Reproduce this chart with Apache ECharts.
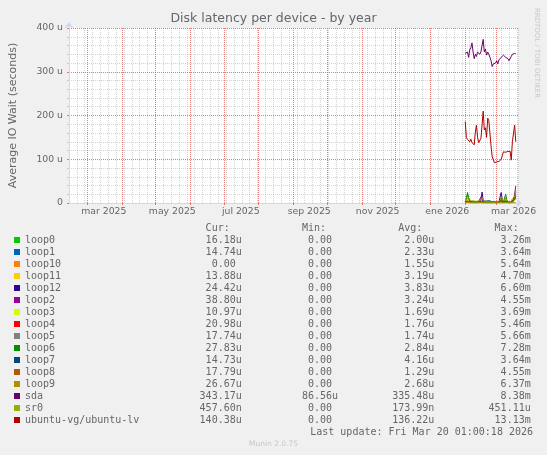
<!DOCTYPE html>
<html><head><meta charset="utf-8">
<script src="https://cdn.jsdelivr.net/npm/echarts@6/dist/echarts.min.js"></script>
<style>html,body{margin:0;padding:0;background:#F0F0F0}#c{width:547px;height:455px}</style>
</head><body><div id="c"></div>
<script>
// ---- data ----
const seriesNames = ['loop0','loop1','loop10','loop11','loop12','loop2','loop3','loop4','loop5','loop6','loop7','loop8','loop9','sda','sr0','ubuntu-vg/ubuntu-lv'];
const seriesColors = ['#00CC00','#0066B3','#FF8000','#FFCC00','#330099','#990099','#CCFF00','#FF0000','#808080','#008F00','#00487D','#B35A00','#B38F00','#6B006B','#8FB300','#B30000'];
const curValues = ['16.18u','14.74u','0.00','13.88u','24.42u','38.80u','10.97u','20.98u','17.74u','27.83u','14.73u','17.79u','26.67u','343.17u','457.60n','140.38u'];
const minValues = ['0.00','0.00','0.00','0.00','0.00','0.00','0.00','0.00','0.00','0.00','0.00','0.00','0.00','86.56u','0.00','0.00'];
const avgValues = ['2.00u','2.33u','1.55u','3.19u','3.83u','3.24u','1.69u','1.76u','1.74u','2.84u','4.16u','1.29u','2.68u','335.48u','173.99n','136.22u'];
const maxValues = ['3.26m','3.64m','5.64m','4.70m','6.60m','4.55m','3.69m','5.46m','5.66m','7.28m','3.64m','4.55m','6.37m','8.38m','451.11u','13.13m'];

const yTickLabels = ['0','100 u','200 u','300 u','400 u'];
const xLabelDates = ['2025-03-16','2025-05-16','2025-07-16','2025-09-15','2025-11-15','2026-01-16','2026-03-16'];
const xLabelTexts = ['mar 2025','may 2025','jul 2025','sep 2025','nov 2025','ene 2026','mar 2026'];
const monthStarts = ['2025-03-01','2025-04-01','2025-05-01','2025-06-01','2025-07-01','2025-08-01','2025-09-01','2025-10-01','2025-11-01','2025-12-01','2026-01-01','2026-02-01','2026-03-01'];

const rangeStart = '2025-02-13';
const rangeEnd = '2026-03-20';
const firstSampleDay = '2026-02-01'; // daily samples from here

// values in microseconds (u)
const loop0  = [3,6,20,8,4,2,3,5,2,3,4,2,3,6,5,3,4,2,3,4,2,3,2,1,2,3,2,1,2,3,4,3,5,3,2,4,12,5,3,2,3,2,4,6,10,16];
const loop1  = [2,3,4,3,2,3,2,4,3,2,3,2,3,2,3,4,3,2,4,5,5,4,5,3,2,3,2,3,2,3,2,4,6,3,2,3,4,3,2,3,2,3,4,5,8,15];
const loop10 = [1,2,3,1,1,2,1,0,1,2,1,0,1,1,2,1,0,1,1,2,1,0,1,1,0,1,1,0,1,1,2,1,0,1,1,2,1,0,1,1,0,1,1,2,1,0];
const loop11 = [2,4,8,5,3,2,2,3,2,2,3,2,2,3,2,4,5,3,2,2,3,2,2,1,2,2,1,2,2,3,2,3,6,4,2,3,5,3,2,2,2,3,4,6,9,14];
const loop12 = [1,2,4,3,2,1,2,1,2,3,2,1,2,3,8,25,6,2,3,2,1,2,1,2,1,1,2,1,2,1,2,3,24,8,3,2,4,2,1,2,1,2,3,5,12,24];
const loop2  = [1,2,3,2,1,2,1,2,1,2,1,2,3,6,14,8,3,2,1,2,1,2,1,1,2,1,1,2,1,2,1,2,12,6,2,1,3,2,1,2,1,2,4,8,20,39];
const loop3  = [1,2,5,3,1,1,2,1,1,2,1,1,2,1,2,3,2,1,1,2,1,1,1,1,1,1,1,1,1,1,1,2,3,2,1,1,3,2,1,1,1,2,2,4,6,11];
const loop4  = [1,1,3,2,1,1,1,1,1,2,1,1,1,1,2,3,2,1,1,1,1,1,1,1,1,1,1,1,1,1,1,2,3,2,1,1,2,1,1,1,1,1,2,4,8,21];
const loop5  = [1,2,3,2,1,1,2,1,1,1,2,1,1,1,2,3,2,1,1,1,2,1,1,1,1,1,1,1,1,1,1,2,4,2,1,1,2,1,1,1,1,2,2,5,9,18];
const loop6  = [3,8,24,12,5,3,2,3,2,3,2,3,2,3,4,6,4,2,3,2,3,2,2,1,2,2,1,2,1,2,3,4,6,4,3,6,20,8,3,2,3,2,4,7,14,28];
const loop7  = [3,3,4,3,3,4,3,3,3,4,3,3,3,4,3,4,3,3,3,4,4,3,4,3,3,3,3,2,3,3,3,3,4,3,3,3,4,3,3,3,3,3,4,5,8,15];
const loop8  = [1,2,4,3,2,1,1,2,1,1,2,1,1,2,3,4,3,1,1,2,1,1,1,1,1,1,1,1,1,1,1,2,4,2,1,1,3,2,1,1,1,2,3,5,9,18];
const loop9  = [4,10,14,12,8,5,3,4,3,4,3,4,3,5,8,12,10,4,3,4,3,3,3,2,3,3,2,3,2,3,4,6,14,10,4,5,12,6,3,3,3,4,10,14,14,27];
const sda    = [342,338,345,333,350,355,366,345,330,340,335,345,344,340,346,342,374,345,352,338,345,340,333,325,312,318,322,320,325,318,327,325,333,330,338,335,333,336,330,325,322,335,340,343,342,342];
const sr0    = [0.1,0.2,0.2,0.1,0.2,0.1,0.2,0.2,0.1,0.2,0.1,0.2,0.2,0.1,0.2,0.1,0.2,0.2,0.1,0.2,0.1,0.2,0.2,0.1,0.2,0.1,0.2,0.2,0.1,0.2,0.1,0.2,0.2,0.1,0.2,0.1,0.2,0.2,0.1,0.2,0.1,0.2,0.2,0.1,0.3,0.46];
const ubuntuLv = [186,150,145,148,140,146,138,140,133,162,178,150,138,134,148,146,210,167,172,150,194,188,186,130,106,102,92,96,94,95,95,96,100,108,117,117,116,117,118,117,118,98,140,142,178,140];

const seriesValues = [loop0,loop1,loop10,loop11,loop12,loop2,loop3,loop4,loop5,loop6,loop7,loop8,loop9,sda,sr0,ubuntuLv];

// ---- build ----
const DAY = 86400000;
const ms = s => Date.parse(s + 'T00:00:00Z');
const tStart = ms(rangeStart), tEnd = ms(rangeEnd), t0 = ms(firstSampleDay);
const sampleTimes = sda.map((_, j) => t0 + j * DAY);
const labelTimes = xLabelDates.map(ms);
const monthTimes = monthStarts.map(ms);

function field(v) {
  const last = v.charAt(v.length - 1);
  const hasUnit = /[a-zA-Z]/.test(last);
  const num = hasUnit ? v.slice(0, -1) : v;
  return num.padStart(15) + (hasUnit ? last : ' ');
}
function legendLine(name) {
  const i = seriesNames.indexOf(name);
  return name.padEnd(20) + field(curValues[i]) + field(minValues[i]) + field(avgValues[i]) + field(maxValues[i]);
}
const header = 'Cur:'.padStart(34) + 'Min:'.padStart(16) + 'Avg:'.padStart(16) + 'Max:'.padStart(16);

const FONT = 'DejaVu Sans';
const MONO = 'DejaVu Sans Mono';
const TXT = '#666666';
const MGRID = 'rgba(224,80,80,0.75)';
const GRID = 'rgba(143,143,143,0.38)';
const AXIS = '#CFD6F8';

const chart = echarts.init(document.getElementById('c'), null, {renderer: 'canvas'});
chart.setOption({
  animation: false,
  backgroundColor: '#F0F0F0',
  color: seriesColors,
  title: {
    text: 'Disk latency per device - by year', left: 'center', top: 12, padding: 0,
    textStyle: {fontFamily: FONT, fontSize: 12.5, fontWeight: 'normal', color: TXT}
  },
  grid: {left: 66, right: 29, top: 28, bottom: 252, show: true, backgroundColor: '#FFFFFF', borderWidth: 0},
  xAxis: [{
    // data axis (ms), monthly major grid
    type: 'value', min: tStart, max: tEnd, z: 1, position: 'bottom',
    axisLine: {show: true, lineStyle: {color: AXIS, width: 1}, symbol: ['none', 'arrow'], symbolSize: [7, 6], symbolOffset: [0, 4]},
    axisTick: {show: true, length: 2, customValues: monthTimes, lineStyle: {color: MGRID}},
    axisLabel: {show: false},
    splitLine: {show: true, lineStyle: {color: MGRID, type: [1, 1], width: 1}}
  }, {
    // weekly minor grid + month labels
    type: 'value', min: tStart, max: tEnd, interval: 7 * DAY, position: 'bottom',
    axisLine: {show: false}, axisTick: {show: false},
    axisLabel: {
      customValues: labelTimes,
      formatter: v => { const i = labelTimes.indexOf(v); return i >= 0 ? xLabelTexts[i] : ''; },
      margin: 4, fontFamily: FONT, fontSize: 9.3, color: TXT
    },
    splitLine: {show: true, lineStyle: {color: GRID, type: [1, 1], width: 1}}
  }],
  yAxis: {
    type: 'value', min: 0, max: 400, interval: 100, z: 1,
    name: 'Average IO Wait (seconds)', nameLocation: 'middle', nameGap: 50,
    nameTextStyle: {fontFamily: FONT, fontSize: 11, color: TXT},
    axisLine: {show: true, lineStyle: {color: AXIS, width: 1}, symbol: ['none', 'arrow'], symbolSize: [7, 6], symbolOffset: [0, 6]},
    axisTick: {show: true, length: 2, lineStyle: {color: MGRID}},
    minorTick: {show: true, splitNumber: 5, length: 2, lineStyle: {color: GRID}},
    axisLabel: {formatter: v => yTickLabels[Math.round(v / 100)], margin: 6, fontFamily: FONT, fontSize: 9.3, color: TXT},
    splitLine: {show: true, lineStyle: {color: MGRID, type: [1, 1], width: 1}},
    minorSplitLine: {show: true, lineStyle: {color: GRID, type: [1, 1], width: 1}}
  },
  legend: {
    orient: 'vertical', left: 14, top: 234, itemGap: 0, itemWidth: 6, itemHeight: 6, icon: 'rect',
    selectedMode: false, padding: 0, data: seriesNames, formatter: legendLine,
    textStyle: {fontFamily: MONO, fontSize: 10, color: TXT, lineHeight: 12}
  },
  graphic: [
    {type: 'text', x: 25, y: 228, silent: true, style: {text: header, fontFamily: MONO, fontSize: 10, fill: TXT, verticalAlign: 'middle', textVerticalAlign: 'middle'}},
    {type: 'text', x: 533, y: 432, silent: true, style: {text: 'Last update: Fri Mar 20 01:00:18 2026', fontFamily: MONO, fontSize: 10, fill: TXT, align: 'right', textAlign: 'right', verticalAlign: 'middle', textVerticalAlign: 'middle'}},
    {type: 'text', x: 273.5, y: 444, silent: true, style: {text: 'Munin 2.0.75', fontFamily: FONT, fontSize: 7.5, fill: '#C8C8C8', align: 'center', textAlign: 'center', verticalAlign: 'middle', textVerticalAlign: 'middle'}},
    {type: 'text', x: 537, y: 53, rotation: -Math.PI / 2, silent: true, style: {text: 'RRDTOOL / TOBI OETIKER', fontFamily: FONT, fontSize: 7, fill: '#C8C8C8', align: 'center', textAlign: 'center', verticalAlign: 'middle', textVerticalAlign: 'middle'}}
  ],
  series: seriesNames.map((n, i) => ({
    name: n, type: 'line', silent: true, showSymbol: false, symbol: 'none', xAxisIndex: 0,
    data: sampleTimes.map((t, j) => [t, seriesValues[i][j]]),
    lineStyle: {width: 1, color: seriesColors[i]}, itemStyle: {color: seriesColors[i]},
    emphasis: {disabled: true}
  }))
});
</script>
</body></html>
